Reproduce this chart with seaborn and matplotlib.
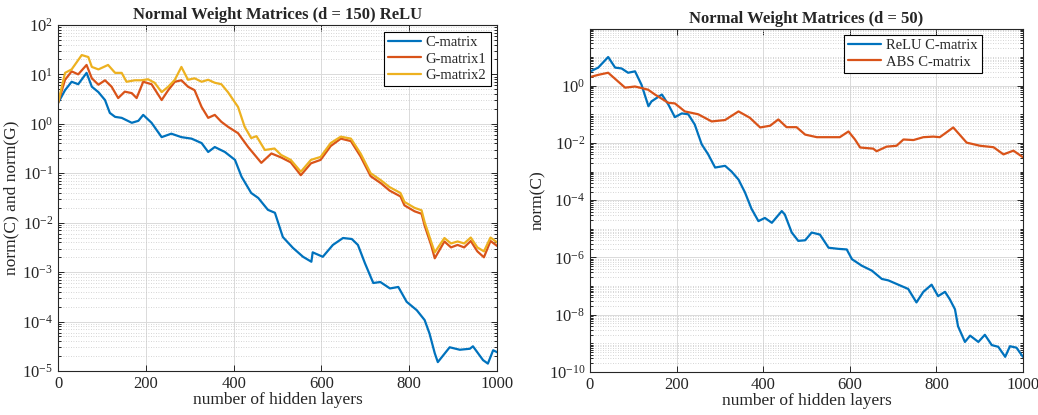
import numpy as np
import pandas as pd
import matplotlib
matplotlib.use('Agg')
import matplotlib.pyplot as plt
import seaborn as sns
from matplotlib.ticker import LogLocator, LogFormatterSciNotation, MultipleLocator, NullFormatter

# --- datos (exponentes log10) ---
# panel izquierdo: d = 150, ReLU
c_x = [0, 16, 31, 46, 65, 77, 92, 107, 118, 130, 145, 168, 183, 194, 213, 236, 258, 281, 304, 327,
       342, 357, 380, 403, 418, 440, 456, 478, 494, 512, 535, 558, 577, 580, 603, 626, 649, 669, 683, 699,
       718, 734, 756, 775, 794, 817, 835, 846, 858, 865, 892, 915, 938, 945, 968, 979, 991, 1000]
c_log = [0.42, 0.68, 0.85, 0.8, 1.03, 0.75, 0.64, 0.48, 0.22, 0.14, 0.12, 0.02, 0.06, 0.18, 0.02, -0.27, -0.2, -0.27, -0.3, -0.39,
         -0.57, -0.47, -0.57, -0.73, -1.07, -1.4, -1.5, -1.74, -1.8, -2.29, -2.51, -2.69, -2.79, -2.6, -2.69, -2.45, -2.31, -2.33, -2.45, -2.82,
         -3.22, -3.2, -3.33, -3.3, -3.6, -3.77, -3.97, -4.24, -4.64, -4.82, -4.52, -4.57, -4.55, -4.5, -4.78, -4.85, -4.58, -4.62]

g1_x = [0, 16, 31, 46, 65, 77, 92, 107, 122, 137, 152, 168, 179, 194, 213, 236, 251, 266, 281, 296,
        311, 327, 342, 357, 372, 387, 410, 433, 463, 486, 508, 530, 553, 576, 598, 621, 644, 667, 689, 712,
        735, 755, 780, 789, 812, 828, 835, 850, 858, 880, 895, 910, 925, 940, 955, 970, 985, 1000]
g1_log = [0.42, 0.89, 1.06, 1.0, 1.19, 0.92, 0.79, 0.88, 0.75, 0.52, 0.65, 0.62, 0.52, 0.85, 0.8, 0.48, 0.68, 0.85, 0.88, 0.75,
          0.68, 0.34, 0.12, 0.18, 0.04, -0.06, -0.19, -0.47, -0.79, -0.6, -0.68, -0.78, -1.04, -0.8, -0.73, -0.45, -0.3, -0.35, -0.66, -1.06,
          -1.2, -1.35, -1.47, -1.65, -1.77, -1.82, -2.06, -2.46, -2.72, -2.38, -2.5, -2.45, -2.5, -2.37, -2.58, -2.7, -2.37, -2.47]

g2_x = [0, 16, 31, 54, 69, 77, 92, 114, 130, 145, 156, 175, 190, 205, 220, 236, 251, 266, 281, 296,
        311, 327, 342, 357, 372, 387, 410, 425, 440, 452, 471, 493, 508, 530, 553, 576, 598, 621, 644, 667,
        689, 712, 735, 755, 780, 789, 812, 828, 835, 850, 858, 880, 895, 910, 925, 940, 955, 970, 985, 1000]
g2_log = [0.42, 1.03, 1.1, 1.39, 1.35, 1.15, 1.1, 1.19, 1.03, 1.03, 0.85, 0.88, 0.88, 0.9, 0.83, 0.64, 0.75, 0.89, 1.15, 0.89,
          0.92, 0.85, 0.89, 0.83, 0.8, 0.64, 0.34, -0.06, -0.29, -0.25, -0.53, -0.5, -0.63, -0.73, -0.97, -0.73, -0.67, -0.39, -0.26, -0.3,
          -0.6, -1.0, -1.14, -1.28, -1.4, -1.58, -1.7, -1.75, -1.99, -2.39, -2.6, -2.31, -2.42, -2.38, -2.42, -2.3, -2.5, -2.58, -2.3, -2.4]

# panel derecho: d = 50
relu_x = [0, 19, 42, 58, 73, 88, 104, 119, 135, 142, 166, 181, 196, 212, 227, 242, 258, 273, 289, 312,
          327, 343, 358, 373, 389, 404, 420, 443, 450, 466, 481, 497, 512, 531, 551, 574, 593, 605, 628, 651,
          674, 689, 712, 735, 754, 770, 789, 804, 820, 831, 843, 850, 866, 878, 897, 912, 928, 943, 959, 970,
          985, 1000]
relu_log = [0.49, 0.63, 1.0, 0.63, 0.6, 0.45, 0.5, 0.03, -0.72, -0.55, -0.31, -0.66, -1.1, -0.97, -1.0, -1.36, -2.05, -2.4, -2.86, -2.8,
            -3.0, -3.28, -3.73, -4.3, -4.73, -4.62, -4.79, -4.38, -4.5, -5.13, -5.42, -5.4, -5.13, -5.2, -5.66, -5.7, -5.72, -6.06, -6.29, -6.46,
            -6.75, -6.8, -6.95, -7.1, -7.57, -7.2, -6.95, -7.35, -7.2, -7.46, -7.81, -8.4, -8.95, -8.73, -8.95, -8.7, -9.06, -9.12, -9.47, -9.1,
            -9.15, -9.47]

abs_x = [0, 20, 42, 81, 104, 134, 150, 181, 196, 219, 250, 281, 312, 343, 369, 393, 416, 435, 454, 477,
         497, 524, 554, 577, 597, 612, 624, 654, 662, 685, 708, 724, 747, 770, 793, 808, 839, 870, 901, 932,
         955, 978, 1000]
abs_log = [0.3, 0.38, 0.45, -0.07, -0.03, -0.14, -0.31, -0.6, -0.62, -0.9, -1.0, -1.25, -1.2, -0.9, -1.12, -1.46, -1.4, -1.18, -1.45, -1.45,
           -1.71, -1.8, -1.8, -1.8, -1.6, -1.88, -2.16, -2.2, -2.29, -2.13, -2.1, -1.88, -1.9, -1.8, -1.78, -1.8, -1.46, -1.99, -2.1, -2.15,
           -2.4, -2.27, -2.5]

izq_nombres = ['C-matrix', 'G-matrix1', 'G-matrix2']
der_nombres = ['ReLU C-matrix', 'ABS C-matrix']
colores = ['#0072BD', '#D95319', '#EDB120']


def armar_df(xs, logs, nombres):
    partes = []
    for x, lg, n in zip(xs, logs, nombres):
        partes.append(pd.DataFrame({'layer': x, 'value': 10.0 ** np.array(lg), 'serie': n}))
    return pd.concat(partes, ignore_index=True)


df_izq = armar_df([c_x, g1_x, g2_x], [c_log, g1_log, g2_log], izq_nombres)
df_der = armar_df([relu_x, abs_x], [relu_log, abs_log], der_nombres)

sns.set_style('ticks')
plt.rcParams['font.family'] = ['Liberation Serif', 'DejaVu Serif']
plt.rcParams['mathtext.fontset'] = 'custom'
plt.rcParams['mathtext.rm'] = 'Liberation Serif'

fig = plt.figure(figsize=(10.38, 4.15), dpi=100)
ax1 = fig.add_axes([0.0559, 0.106, 0.423, 0.834])
ax2 = fig.add_axes([0.5684, 0.1036, 0.4171, 0.8265])

sns.lineplot(data=df_izq, x='layer', y='value', hue='serie', hue_order=izq_nombres,
             palette=colores, ax=ax1, linewidth=1.6, estimator=None, sort=False)
sns.lineplot(data=df_der, x='layer', y='value', hue='serie', hue_order=der_nombres,
             palette=colores[:2], ax=ax2, linewidth=1.6, estimator=None, sort=False)


def estilo(ax, ylim, base_mayor, titulo, ylabel, ancla):
    ax.set_yscale('log')
    ax.set_xlim(0, 1000)
    ax.set_ylim(*ylim)
    ax.xaxis.set_major_locator(MultipleLocator(200))
    ax.yaxis.set_major_locator(LogLocator(base=base_mayor, numticks=30))
    ax.yaxis.set_major_formatter(LogFormatterSciNotation(base=10))
    ax.yaxis.set_minor_locator(LogLocator(base=10, subs=np.arange(1, 10), numticks=60))
    ax.yaxis.set_minor_formatter(NullFormatter())
    ax.grid(True, which='major', color='#dadada', lw=0.7, ls='-')
    ax.grid(True, which='minor', axis='y', color='#c8c8c8', lw=0.6, ls=(0, (1, 2)))
    ax.set_axisbelow(True)
    ax.tick_params(which='both', direction='in', top=True, right=True, colors='#262626',
                   labelsize=12, width=0.7)
    ax.tick_params(which='major', length=4)
    ax.tick_params(which='minor', length=2.5)
    for s in ax.spines.values():
        s.set_linewidth(0.8)
        s.set_color('#262626')
    ax.set_title(titulo, fontsize=12, fontweight='bold', pad=4)
    ax.set_xlabel('number of hidden layers', fontsize=12.5, labelpad=0)
    ax.set_ylabel(ylabel, fontsize=12.5, labelpad=2)
    leg = ax.legend(loc='upper right', bbox_to_anchor=ancla, frameon=True, fancybox=False,
                    fontsize=10.5, handlelength=2.3, borderaxespad=0, borderpad=0.3,
                    labelspacing=0.2, handletextpad=0.3)
    leg.get_frame().set_edgecolor('black')
    leg.get_frame().set_linewidth(0.8)
    leg.get_frame().set_alpha(1)


estilo(ax1, (1e-5, 1e2), 10, 'Normal Weight Matrices (d = 150) ReLU', 'norm(C) and norm(G)', (0.986, 0.98))
estilo(ax2, (1e-10, 95), 100, 'Normal Weight Matrices (d = 50)', 'norm(C)', (0.905, 0.983))

fig.savefig('out.png', dpi=100)
